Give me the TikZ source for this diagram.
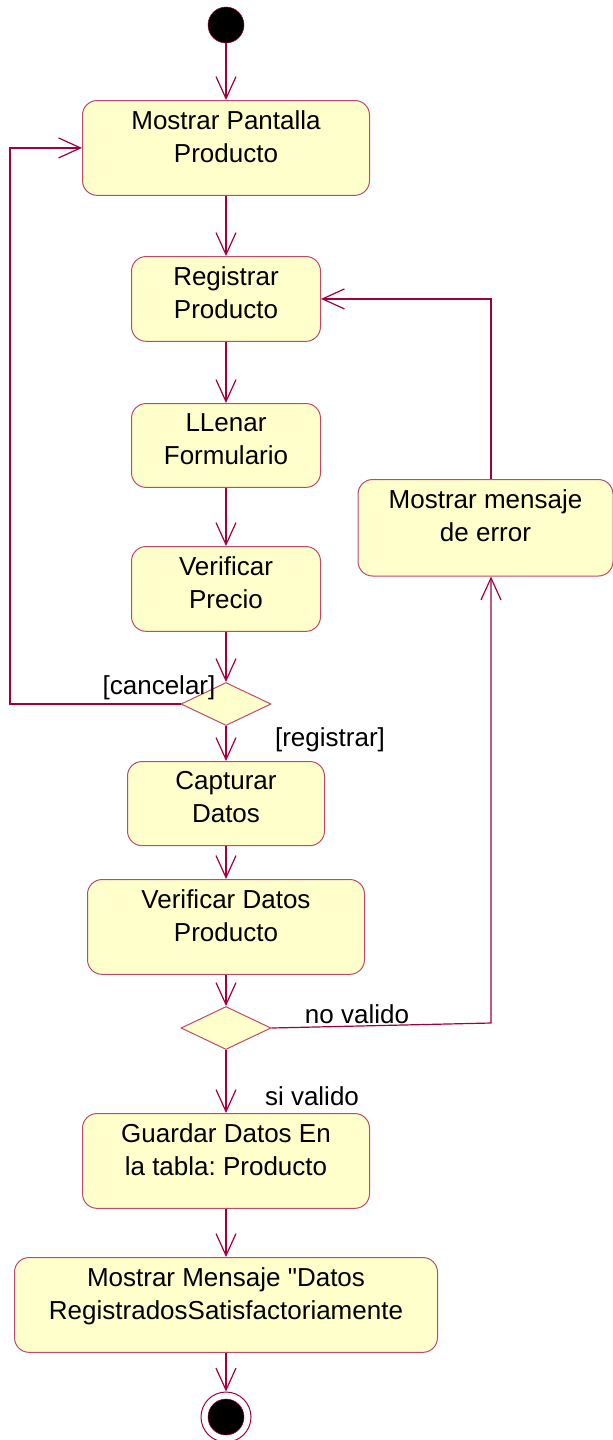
\documentclass[tikz,border=0pt]{standalone}
\usepackage{fontspec}
\setmainfont{Liberation Sans}[Ligatures=TeXOff]
\frenchspacing
\usetikzlibrary{arrows.meta,positioning,shapes.geometric}
\definecolor{flowline}{RGB}{160,0,64}
\definecolor{boxline}{RGB}{192,72,110}
\definecolor{actfill}{RGB}{255,255,204}
\tikzset{
  activity/.style={draw=boxline,fill=actfill,rounded corners=11pt,line width=0.75pt,
    align=center,anchor=north,inner xsep=2pt,inner ysep=7.5pt,text depth=9.75pt,
    font=\fontsize{19.5}{24.75}\selectfont},
  tallactivity/.style={activity,text depth=17.25pt},
  choice/.style={diamond,draw=boxline,fill=actfill,line width=0.75pt,
    minimum width=67.5pt,minimum height=32.25pt,inner sep=0pt},
  guard/.style={font=\fontsize{19.5}{24.75}\selectfont,inner sep=0pt},
  flow/.style={draw=flowline,line width=0.9pt,-{Straight Barb[length=16.5pt,width=15pt]}}
}

\begin{document}
\begin{tikzpicture}[x=0.75pt,y=-0.75pt]
  \useasboundingbox (0,0) rectangle (613,1440);
  % start and end
  \node[circle,fill=black,draw=flowline,minimum size=27pt,inner sep=0pt] (start) at (226,25) {};
  \node[circle,fill=white,draw=flowline,line width=0.75pt,minimum size=37.5pt,inner sep=0pt] (stopring) at (226,1417) {};
  \node[circle,fill=black,draw=flowline,minimum size=27pt,inner sep=0pt] (stopdot) at (226,1417) {};

  % activities
  \node[tallactivity,minimum width=215.25pt] (pantalla) at (226,100) {Mostrar Pantalla\\Producto};
  \node[activity,minimum width=141.75pt] (registrar) at (226,256) {Registrar\\Producto};
  \node[activity,minimum width=141.75pt] (llenar) at (226,403) {LLenar\\Formulario};
  \node[activity,minimum width=141.75pt] (precio) at (226,546) {Verificar\\Precio};
  \node[choice] (d1) at (226,704) {};
  \node[activity,minimum width=147.75pt] (capturar) at (226,761) {Capturar\\Datos};
  \node[tallactivity,minimum width=207.75pt] (verificar) at (226,879) {Verificar Datos\\Producto};
  \node[choice] (d2) at (226,1028) {};
  \node[tallactivity,minimum width=215.25pt] (guardar) at (226,1113) {Guardar Datos En\\la tabla: Producto};
  \node[tallactivity,minimum width=317.25pt] (mensaje) at (226,1257) {Mostrar Mensaje "Datos\\RegistradosSatisfactoriamente};
  \node[tallactivity,minimum width=191.25pt,text depth=18.5pt] (error) at (485.5,479) {Mostrar mensaje\\de error};

  % guards
  \node[guard] (gcancel) at (159,688) {[cancelar]};
  \node[guard] (gregistrar) at (330,740) {[registrar]};
  \node[guard] (gnovalido) at (357,1014) {no valido};
  \node[guard] (gsivalido) at (312,1096) {si valido};

  % flow
  \draw[flow] (start) -- (pantalla);
  \draw[flow] (pantalla) -- (registrar);
  \draw[flow] (registrar) -- (llenar);
  \draw[flow] (llenar) -- (precio);
  \draw[flow] (precio) -- (d1);
  \draw[flow] (d1) -- (capturar);
  \draw[flow] (capturar) -- (verificar);
  \draw[flow] (verificar) -- (d2);
  \draw[flow] (d2) -- (guardar);
  \draw[flow] (guardar) -- (mensaje);
  \draw[flow] (mensaje) -- (stopring);

  % back loops
  \coordinate (cancelbend) at (10,704);
  \draw[flow] (d1.west) -- (cancelbend) |- (pantalla.west);
  \coordinate (novalbend) at (491,1023);
  \draw[flow] (d2.east) -- (novalbend) -- (novalbend |- error.south);
  \draw[flow] (novalbend |- error.north) |- (registrar.east);
\end{tikzpicture}
\end{document}
